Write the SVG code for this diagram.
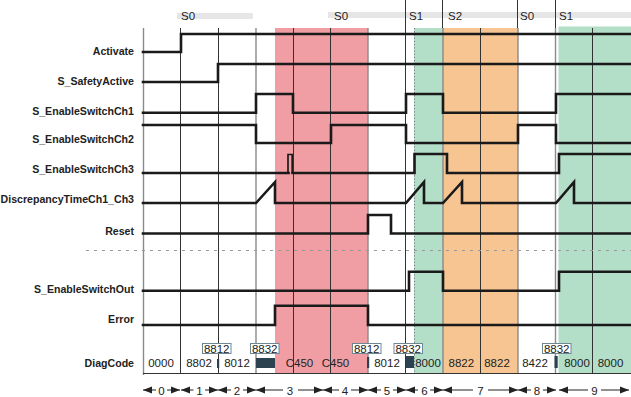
<svg xmlns="http://www.w3.org/2000/svg" width="631" height="397" viewBox="0 0 631 397">
<style>
.lbl{font-family:"Liberation Sans",Arial,sans-serif;font-weight:bold;font-size:10.6px;text-anchor:end;fill:#222}
.txt{font-family:"Liberation Sans",Arial,sans-serif;font-size:11.5px;fill:#222}
.mid{text-anchor:middle}
.sig{fill:none;stroke:#1a1a1a;stroke-width:2.6;stroke-linejoin:miter;stroke-linecap:square}
.gd{stroke:#333;stroke-width:1}
.gl{stroke:#8a8a8a;stroke-width:1.4}
.box{fill:#fff;stroke:#6f8793;stroke-width:1}
.blk{fill:#2c4250}
.seg{stroke:#222;stroke-width:1;marker-start:url(#ah);marker-end:url(#ah)}
</style>
<defs>
<marker id="ah" viewBox="0 0 10 10" refX="10" refY="5" markerWidth="9" markerHeight="9" markerUnits="userSpaceOnUse" orient="auto-start-reverse"><path d="M0,1 L10,5 L0,9 Z" fill="#222"/></marker>
</defs>
<rect width="631" height="397" fill="#fff"/>
<g id="phases">
<rect x="275" y="28" width="93" height="345" fill="#f09ea4"/>
<rect x="414" y="28" width="29" height="345" fill="#b3dec8"/>
<rect x="443" y="28" width="75" height="345" fill="#f6c592"/>
<rect x="558.5" y="26.5" width="72.5" height="346.5" fill="#b3dec8"/>
</g>
<g id="states">
<rect x="177" y="13" width="76" height="6" fill="#e6e6e6"/>
<rect x="328" y="12" width="303" height="6" fill="#e6e6e6"/>
<text class="txt" x="181" y="19.5">S0</text>
<text class="txt" x="334" y="19.5">S0</text>
<text class="txt" x="409" y="19.5">S1</text>
<text class="txt" x="448" y="19.5">S2</text>
<text class="txt" x="520" y="19.5">S0</text>
<text class="txt" x="559" y="19.5">S1</text>
<path class="gd" d="M405.5,0V28M442.5,0V28M517.5,0V28M555.5,0V28"/>
</g>
<g id="grid">
<path class="gl" d="M143.5,28V375"/>
<path class="gd" d="M180.5,28V373M218.5,28V373M293.5,28V373M330.5,28V373M405.5,28V373M480.5,28V373M592.5,28V373"/>
<path class="gl" d="M256,28V373M368,28V373M443,28V373M518,28V373M555.5,28V373"/>
<path stroke="#777" stroke-width="1" stroke-dasharray="1.2 2" d="M414.5,28V373"/>
<path class="gd" d="M143,373.5H631"/>
<path stroke="#999" stroke-width="1" stroke-dasharray="3 5" d="M86,250.5H631"/>
</g>
<g id="labels">
<text class="lbl" x="134" y="54.5">Activate</text>
<text class="lbl" x="134" y="84.5">S_SafetyActive</text>
<text class="lbl" x="134" y="114.5">S_EnableSwitchCh1</text>
<text class="lbl" x="134" y="143">S_EnableSwitchCh2</text>
<text class="lbl" x="134" y="173">S_EnableSwitchCh3</text>
<text class="lbl" x="134" y="202.5">DiscrepancyTimeCh1_Ch3</text>
<text class="lbl" x="134" y="234.5">Reset</text>
<text class="lbl" x="134" y="292.5">S_EnableSwitchOut</text>
<text class="lbl" x="134" y="323">Error</text>
<text class="lbl" x="134" y="367">DiagCode</text>
</g>
<g id="signals">
<path id="sig-activate" class="sig" d="M143,52H181V34H631"/>
<path id="sig-safety" class="sig" d="M143,82H218V64H631"/>
<path id="sig-ch1" class="sig" d="M143,112.7H256V94H293V112.7H406V94H443V112.7H556V94H631"/>
<path id="sig-ch2" class="sig" d="M143,125H256V143H331V125H406V143H518V125H556V143H631"/>
<path id="sig-ch3" class="sig" d="M143,173H288.6M292.6,173H414.5V154H447V173H559V154H631"/>
<path id="sig-ch3-pulse" fill="none" stroke="#1a1a1a" stroke-width="1.7" d="M288,173.5V154.5H292.2V173.5"/>
<path id="sig-disc" class="sig" d="M143,203H256L275,182V203H406L424,182V203H443L462,182V203H556L574,182V203H631"/>
<path id="sig-reset" class="sig" d="M143,233.5H368V215H391V233.5H631"/>
<path id="sig-out" class="sig" d="M143,290.7H409V271.7H443V290.7H559V271.7H631"/>
<path id="sig-error" class="sig" d="M143,325H275V305.7H368V325H631"/>
</g>
<g id="diagcode">
<text class="txt mid" x="161" y="367">0000</text>
<text class="txt mid" x="199" y="367">8802</text>
<rect class="blk" x="217" y="359" width="2.2" height="9"/>
<rect class="box" x="202.5" y="343.5" width="28.5" height="10"/>
<text class="txt mid" x="216.7" y="352.5">8812</text>
<text class="txt mid" x="237" y="367">8012</text>
<rect class="blk" x="256" y="358" width="19" height="10"/>
<rect class="box" x="250.5" y="343.5" width="28.5" height="10"/>
<text class="txt mid" x="264.7" y="352.5">8832</text>
<text class="txt mid" x="299.5" y="367">C450</text>
<text class="txt mid" x="335.5" y="367">C450</text>
<rect class="blk" x="367" y="357" width="2.2" height="11"/>
<rect class="box" x="352.5" y="343.5" width="28.5" height="10"/>
<text class="txt mid" x="366.7" y="352.5">8812</text>
<text class="txt mid" x="387" y="367">8012</text>
<rect class="blk" x="406" y="356" width="8" height="12"/>
<rect class="box" x="394" y="343.5" width="28.5" height="10"/>
<text class="txt mid" x="408.2" y="352.5">8832</text>
<text class="txt mid" x="428" y="367">8000</text>
<text class="txt mid" x="461.3" y="367">8822</text>
<text class="txt mid" x="497" y="367">8822</text>
<text class="txt mid" x="535" y="367">8422</text>
<rect class="blk" x="554.5" y="356" width="3.2" height="12"/>
<rect class="box" x="542.5" y="343.5" width="28.5" height="10"/>
<text class="txt mid" x="556.7" y="352.5">8832</text>
<text class="txt mid" x="577" y="367">8000</text>
<text class="txt mid" x="610.5" y="367">8000</text>
</g>
<g id="segments">
<path class="seg" d="M143,390H156M167,390H180"/>
<text class="txt mid" x="161.5" y="394.5">0</text>
<path class="seg" d="M181,390H193.5M205,390H218"/>
<text class="txt mid" x="199.5" y="394.5">1</text>
<path class="seg" d="M218,390H231M243,390H256"/>
<text class="txt mid" x="237" y="394.5">2</text>
<path class="seg" d="M256,390H283M298,390H323"/>
<text class="txt mid" x="290" y="394.5">3</text>
<path class="seg" d="M323,390H339M351,390H368"/>
<text class="txt mid" x="345" y="394.5">4</text>
<path class="seg" d="M368,390H381M393,390H406"/>
<text class="txt mid" x="387" y="394.5">5</text>
<path class="seg" d="M406,390H418M430,390H443"/>
<text class="txt mid" x="424.5" y="394.5">6</text>
<path class="seg" d="M443,390H473M488,390H518"/>
<text class="txt mid" x="480.5" y="394.5">7</text>
<path class="seg" d="M518,390H531M543,390H556"/>
<text class="txt mid" x="537" y="394.5">8</text>
<path class="seg" d="M559,390H588M601,390H629"/>
<text class="txt mid" x="594.5" y="394.5">9</text>
</g>
</svg>
